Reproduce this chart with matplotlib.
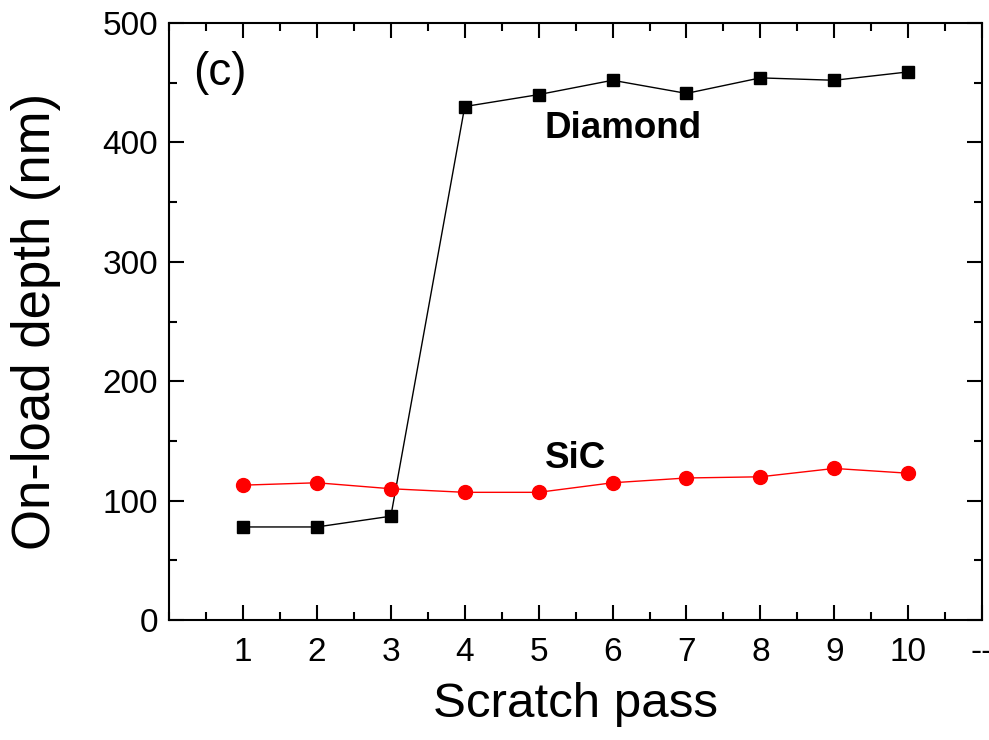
import matplotlib
matplotlib.use("Agg")
import matplotlib.pyplot as plt
from matplotlib.ticker import MultipleLocator

plt.rcParams['font.family'] = ['Liberation Sans', 'DejaVu Sans']

# scratch pass number
passes = [1, 2, 3, 4, 5, 6, 7, 8, 9, 10]
# on-load depth (nm)
diamond = [78, 78, 87, 430, 440, 452, 441, 454, 452, 459]
sic = [113, 115, 110, 107, 107, 115, 119, 120, 127, 123]

xticks = [1, 2, 3, 4, 5, 6, 7, 8, 9, 10, 11]
xticklabels = ['1', '2', '3', '4', '5', '6', '7', '8', '9', '10', '--']

fig = plt.figure(figsize=(9.89, 7.4), dpi=100)
ax = fig.add_axes([0.171, 0.162, 0.822, 0.807])

ax.plot(passes, diamond, color='black', lw=1, marker='s', ms=9, clip_on=False)
ax.plot(passes, sic, color='red', lw=1, marker='o', ms=10, clip_on=False)

ax.set_xlim(0, 11)
ax.set_ylim(0, 500)
ax.set_xticks(xticks)
ax.set_xticklabels(xticklabels)
ax.xaxis.set_minor_locator(MultipleLocator(0.5))
ax.yaxis.set_major_locator(MultipleLocator(100))
ax.yaxis.set_minor_locator(MultipleLocator(50))
ax.tick_params(which='both', direction='in', top=True, right=True, width=1.5,
               labelsize=24)
ax.tick_params(axis='x', pad=12)
ax.tick_params(axis='y', pad=8)
ax.tick_params(which='major', length=11)
ax.tick_params(which='minor', length=6)
for s in ax.spines.values():
    s.set_linewidth(1.5)

ax.set_xlabel('Scratch pass', fontsize=35.5, labelpad=10)
ax.set_ylabel('On-load depth (nm)', fontsize=38, labelpad=30)

ax.text(0.33, 458, '(c)', fontsize=33, va='center')
ax.text(5.08, 412, 'Diamond', fontsize=26.5, fontweight='bold', va='center')
ax.text(5.08, 135, 'SiC', fontsize=26.5, fontweight='bold', va='center')

fig.savefig('out.png', dpi=100)
